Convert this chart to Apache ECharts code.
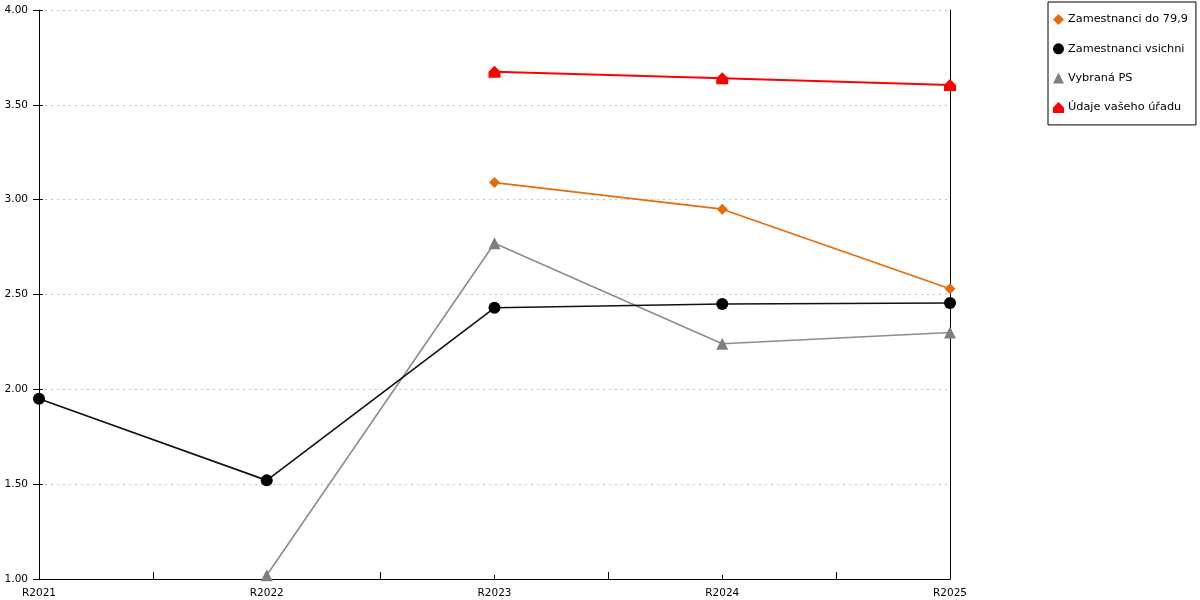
<!DOCTYPE html>
<html>
<head>
<meta charset="utf-8">
<script src="https://cdn.jsdelivr.net/npm/echarts@6/dist/echarts.min.js"></script>
<style>
  html, body { margin: 0; padding: 0; background: #fff; }
  #chart-container { width: 1200px; height: 600px; }
</style>
</head>
<body>
<div id="chart-container"></div>
<script>
// data
var categories = ['R2021', 'R2022', 'R2023', 'R2024', 'R2025'];
var yTicks = [1.0, 1.5, 2.0, 2.5, 3.0, 3.5, 4.0];
var seriesNames = ['Zamestnanci do 79,9', 'Zamestnanci vsichni', 'Vybraná PS', 'Údaje vašeho úřadu'];
var do799 = [null, null, 3.09, 2.95, 2.53];
var vsichni = [1.95, 1.52, 2.43, 2.45, 2.455];
var vybranaPS = [null, 1.02, 2.77, 2.24, 2.30];
var vasUrad = [null, null, 3.675, 3.64, 3.605];

// pair category index with value for the value-type x axis
function toPoints(arr) {
  var out = [];
  arr.forEach(function (v, i) {
    if (v !== null) out.push([i, v]);
  });
  return out;
}

var housePath = 'path://M0,5 L5,0 L10,5 L10,10 L0,10 Z';
var font = '"DejaVu Sans", Verdana, sans-serif';

var dom = document.getElementById('chart-container');
var myChart = echarts.init(dom, null, { renderer: 'canvas' });

var option = {
  animation: false,
  backgroundColor: '#fff',
  grid: { left: 39, right: 250, top: 10, bottom: 21, containLabel: false },
  legend: {
    orient: 'vertical',
    left: 1048,
    top: 2,
    padding: [12, 8, 12, 5],
    itemGap: 18.3,
    itemWidth: 11,
    itemHeight: 11,
    borderColor: '#000',
    borderWidth: 1,
    textStyle: { fontFamily: font, fontSize: 11.3, color: '#000', padding: [0, 0, 0, -1] },
    data: [
      { name: seriesNames[0], icon: 'diamond' },
      { name: seriesNames[1], icon: 'circle' },
      { name: seriesNames[2], icon: 'triangle' },
      { name: seriesNames[3], icon: housePath }
    ]
  },
  xAxis: {
    type: 'value',
    min: 0,
    max: categories.length - 1,
    interval: 1,
    axisLine: { show: true, onZero: false, lineStyle: { color: '#000', width: 1 } },
    axisTick: { show: true, inside: true, length: 4, lineStyle: { color: '#000' } },
    minorTick: { show: true, splitNumber: 2, length: 7, lineStyle: { color: '#000', width: 1 } },
    splitLine: { show: false },
    axisLabel: {
      fontFamily: font, fontSize: 10.5, color: '#000', margin: 9,
      formatter: function (v) { return categories[v] || ''; }
    }
  },
  yAxis: [{
    type: 'value',
    min: yTicks[0],
    max: yTicks[yTicks.length - 1],
    interval: 0.5,
    axisLine: { show: true, lineStyle: { color: '#000', width: 1 } },
    axisTick: { show: true, length: 6, lineStyle: { color: '#000' } },
    splitLine: { show: true, lineStyle: { color: '#c0c0c0', type: [2, 4], width: 1 } },
    axisLabel: {
      fontFamily: font, fontSize: 10.5, color: '#000', margin: 11,
      formatter: function (v) { return v.toFixed(2); }
    }
  }, {
    type: 'value',
    position: 'right',
    min: yTicks[0],
    max: yTicks[yTicks.length - 1],
    interval: 0.5,
    axisLine: { show: true, lineStyle: { color: '#000', width: 1 } },
    axisTick: { show: false },
    axisLabel: { show: false },
    splitLine: { show: false }
  }, {
    // inner half of the y ticks, which cross the axis line
    type: 'value',
    position: 'left',
    min: yTicks[0],
    max: yTicks[yTicks.length - 1],
    interval: 0.5,
    axisLine: { show: false },
    axisTick: { show: true, inside: true, length: 4, lineStyle: { color: '#000' } },
    axisLabel: { show: false },
    splitLine: { show: false }
  }],
  series: [
    {
      name: seriesNames[0], type: 'line', data: toPoints(do799),
      symbol: 'diamond', symbolSize: 11,
      itemStyle: { color: '#e46c0a' },
      lineStyle: { color: '#e46c0a', width: 1.6 },
      z: 3
    },
    {
      name: seriesNames[1], type: 'line', data: toPoints(vsichni),
      symbol: 'circle', symbolSize: 12,
      itemStyle: { color: '#000' },
      lineStyle: { color: '#111', width: 1.6 },
      z: 2
    },
    {
      name: seriesNames[2], type: 'line', data: toPoints(vybranaPS),
      symbol: 'triangle', symbolSize: 12,
      itemStyle: { color: '#7f7f7f' },
      lineStyle: { color: '#8c8c8c', width: 1.6 },
      z: 1
    },
    {
      name: seriesNames[3], type: 'line', data: toPoints(vasUrad),
      symbol: housePath, symbolSize: 12,
      itemStyle: { color: '#ff0000' },
      lineStyle: { color: '#ff0000', width: 2 },
      z: 4
    }
  ]
};

myChart.setOption(option);
</script>
</body>
</html>
